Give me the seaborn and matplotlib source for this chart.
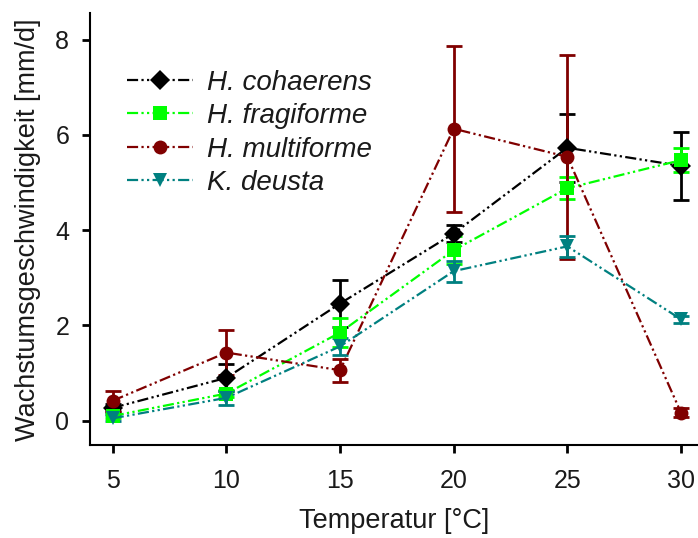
import matplotlib
matplotlib.use("Agg")
import matplotlib.pyplot as plt
import numpy as np
import pandas as pd
import seaborn as sns

temps = [5, 10, 15, 20, 25, 30]
species = ["H. cohaerens", "H. fragiforme", "H. multiforme", "K. deusta"]

cohaerens = [0.27, 0.9, 2.46, 3.93, 5.73, 5.35]
cohaerens_err = [0.08, 0.28, 0.5, 0.17, 0.71, 0.72]
fragiforme = [0.1, 0.57, 1.85, 3.58, 4.88, 5.47]
fragiforme_err = [0.05, 0.08, 0.3, 0.3, 0.23, 0.25]
multiforme = [0.42, 1.43, 1.06, 6.13, 5.54, 0.17]
multiforme_err = [0.21, 0.47, 0.24, 1.74, 2.14, 0.1]
deusta = [0.05, 0.48, 1.56, 3.14, 3.66, 2.13]
deusta_err = [0.06, 0.14, 0.18, 0.22, 0.22, 0.07]

values = [cohaerens, fragiforme, multiforme, deusta]
errors = [cohaerens_err, fragiforme_err, multiforme_err, deusta_err]
colors = ["#000000", "#00ff00", "#800000", "#008080"]
markers = ["D", "s", "o", "v"]

df = pd.DataFrame({
    "Temperatur": temps * 4,
    "Rate": sum(values, []),
    "Art": [s for s in species for _ in temps],
})

sns.set_style("ticks")
plt.rcParams["font.family"] = ["Liberation Sans", "DejaVu Sans"]
plt.rcParams["text.color"] = "#1a1a1a"
plt.rcParams["axes.labelcolor"] = "#1a1a1a"
plt.rcParams["xtick.labelcolor"] = "#1a1a1a"
plt.rcParams["ytick.labelcolor"] = "#1a1a1a"

fig = plt.figure(figsize=(6.98, 5.38), dpi=100)
ax = fig.add_axes([0.129, 0.172, 0.871, 0.803])

dash = (5, 1.5, 1, 1.5, 1, 1.5)
for i, s in enumerate(species):
    ax.errorbar(temps, values[i], yerr=errors[i], fmt="none", ecolor=colors[i],
                elinewidth=2, capsize=5.5, capthick=2, zorder=2)

sns.lineplot(data=df, x="Temperatur", y="Rate", hue="Art", style="Art",
             palette=dict(zip(species, colors)),
             markers=dict(zip(species, markers)),
             dashes=dict(zip(species, [dash] * 4)),
             markersize=10, markeredgewidth=0, linewidth=1.6,
             ax=ax, zorder=3)

ax.set_xlim(4.0, 30.75)
ax.set_ylim(-0.52, 8.55)
ax.set_xticks(temps)
ax.set_yticks([0, 2, 4, 6, 8])
ax.set_xlabel("Temperatur [°C]", fontsize=19.5, labelpad=11)
ax.set_ylabel("Wachstumsgeschwindigkeit [mm/d]", fontsize=19.5, labelpad=10)
ax.tick_params(axis="both", labelsize=18, length=6, width=2, color="black", pad=9)
ax.tick_params(axis="x", pad=11)
for sp in ["left", "bottom"]:
    ax.spines[sp].set_linewidth(1.5)
    ax.spines[sp].set_color("black")
sns.despine(ax=ax)

leg = ax.legend(loc="upper left", bbox_to_anchor=(0.028, 0.915), frameon=False,
                handlelength=2.4, fontsize=20, labelspacing=0.27, handletextpad=0.5,
                borderpad=0.2)
for t in leg.get_texts():
    t.set_fontstyle("italic")

fig.savefig("out.png", dpi=100)
